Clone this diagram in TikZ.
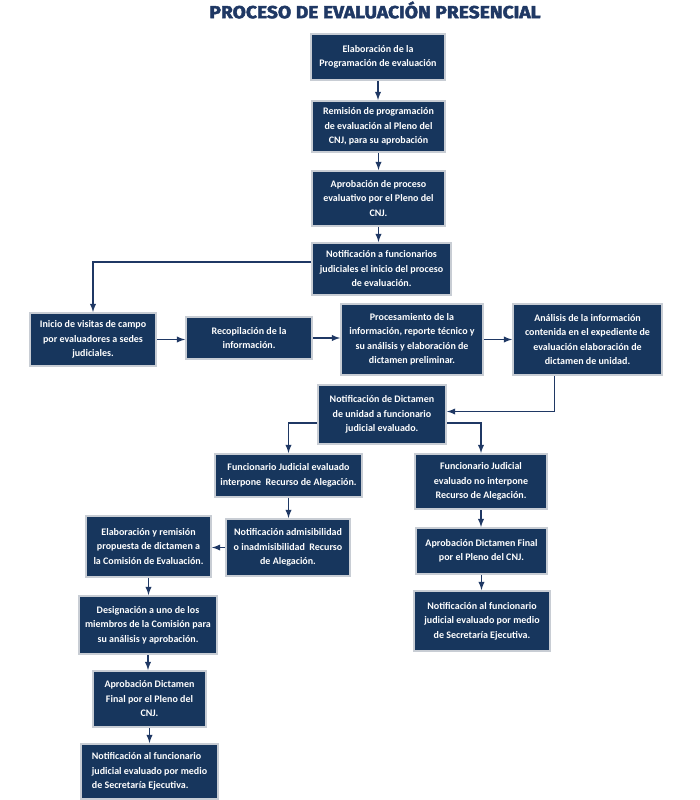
\documentclass[tikz,border=0pt]{standalone}
\usepackage{fontspec}
\setmainfont{Carlito}
\newfontfamily\titlefont{Fira Sans}[BoldFeatures={FakeBold=2.5, FakeStretch=1.1}]
\usepackage{xcolor}
\usepackage{tikz}
\usetikzlibrary{arrows, positioning, calc}

\definecolor{navyfill}{RGB}{23,54,93}
\definecolor{rimgray}{RGB}{200,205,212}
\definecolor{arrownavy}{RGB}{31,56,100}

\tikzset{
  procbox/.style={rectangle, fill=navyfill, draw=rimgray, line width=2pt,
    text=white, align=center, inner sep=0pt,
    font=\bfseries\fontsize{10}{14.5}\selectfont},
  sz/.style 2 args={minimum width=#1pt, minimum height=#2pt},
  flow/.style={->, >=latex, line width=1.8pt, draw=arrownavy},
}

\begin{document}
\begin{tikzpicture}[x=1pt, y=-1pt]
    \useasboundingbox (0,0) rectangle (700,800);

    % Title
    \node[text=arrownavy, font=\titlefont\bfseries\fontsize{17.5}{20}\selectfont] (title) at (375,10) {PROCESO DE EVALUACIÓN PRESENCIAL};

    % Main column
    \node[procbox, sz={134}{46}] (b1) at (378,57) {Elaboración de la\\Programación de evaluación};
    \node[procbox, sz={133}{51}] (b2) at (378.5,126.5) {Remisión de programación\\de evaluación al Pleno del\\CNJ, para su aprobación};
    \node[procbox, sz={133}{55}] (b3) at (378.5,198.5) {Aprobación de proceso\\evaluativo por el Pleno del\\CNJ.};
    \node[procbox, sz={139}{52}] (b4) at (381.5,269) {Notificación a funcionarios\\judiciales el inicio del proceso\\de evaluación.};

    % Row of field work
    \node[procbox, sz={126}{53}] (b5) at (93,339.5) {Inicio de visitas de campo\\por evaluadores a sedes\\judiciales.};
    \node[procbox, sz={126}{42}] (b6) at (249,338) {Recopilación de la\\información.};
    \node[procbox, sz={142}{71}] (b7) at (412,339.5) {Procesamiento de la\\información, reporte técnico y\\su análisis y elaboración de\\dictamen preliminar.};
    \node[procbox, sz={149}{71}] (b8) at (587.5,339.5) {Análisis de la información\\contenida en el expediente de\\evaluación elaboración de\\dictamen de unidad.};

    % Notification and branches
    \node[procbox, sz={128}{59}] (b9) at (382,414.5) {Notificación de Dictamen\\de unidad a funcionario\\judicial evaluado.};
    \node[procbox, sz={147}{43}] (b10) at (288.5,475.5) {Funcionario Judicial evaluado\\interpone\ \ Recurso de Alegación.};
    \node[procbox, sz={132}{55}] (b11) at (481,481.5) {Funcionario Judicial\\evaluado no interpone\\Recurso de Alegación.};
    \node[procbox, sz={124}{57}] (b12) at (288,547.5) {Notificación admisibilidad\\o inadmisibilidad\ \ Recurso\\de Alegación.};
    \node[procbox, sz={131}{46}] (b13) at (481.5,551) {Aprobación Dictamen Final\\por el Pleno del CNJ.};
    \node[procbox, sz={136}{60}] (b15) at (482,621) {Notificación al funcionario\\judicial evaluado por medio\\de Secretaría Ejecutiva.};

    % Left column
    \node[procbox, sz={125}{61}] (b14) at (148.5,546.5) {Elaboración y remisión\\propuesta de dictamen a\\la Comisión de Evaluación.};
    \node[procbox, sz={138}{58}] (b16) at (148,625) {Designación a uno de los\\miembros de la Comisión para\\su análisis y aprobación.};
    \node[procbox, sz={113}{56}] (b17) at (149.5,699) {Aprobación Dictamen\\Final por el Pleno del\\CNJ.};
    \node[procbox, sz={137}{55}, align=left] (b18) at (149.5,771.5) {Notificación al funcionario\\judicial evaluado por medio\\de Secretaría Ejecutiva.};

    % Arrows
    \draw[flow] (b1.south) -- (b1.south |- b2.north);
    \draw[flow] (b2.south) -- (b2.south |- b3.north);
    \draw[flow] (b3.south) -- (b3.south |- b4.north);
    \draw[flow] ([yshift=7pt]b4.west) -| (b5.north);
    \draw[flow] (b5.east) -- (b5.east -| b6.west);
    \draw[flow] (b6.east) -- (b6.east -| b7.west);
    \draw[flow] (b7.east) -- (b8.west);
    \draw[flow] ([xshift=-33pt]b8.south) |- ([yshift=3pt]b9.east);
    \draw[flow] ([yshift=-8.5pt]b9.west) -| (b10.north);
    \draw[flow] ([yshift=-8.5pt]b9.east) -| (b11.north);
    \draw[flow] (b10.south) -- (b10.south |- b12.north);
    \draw[flow] (b11.south) -- (b11.south |- b13.north);
    \draw[flow] (b13.south) -- (b13.south |- b15.north);
    \draw[flow] (b12.west) -- (b12.west -| b14.east);
    \draw[flow] (b14.south) -- (b14.south |- b16.north);
    \draw[flow] (b16.south) -- (b16.south |- b17.north);
    \draw[flow] (b17.south) -- (b17.south |- b18.north);

\end{tikzpicture}
\end{document}
